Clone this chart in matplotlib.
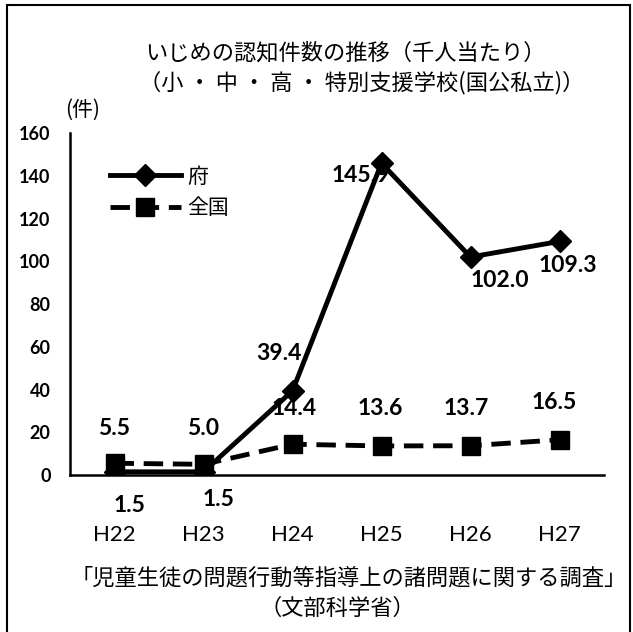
import matplotlib.pyplot as plt
from matplotlib.patches import Rectangle

plt.rcParams['font.family'] = ['Noto Sans CJK JP', 'DejaVu Sans']
num_font = ['Lato', 'Noto Sans CJK JP']

# 年度と千人当たりの認知件数
years = ['H22', 'H23', 'H24', 'H25', 'H26', 'H27']
fu = [1.5, 1.5, 39.4, 145.9, 102.0, 109.3]
zenkoku = [5.5, 5.0, 14.4, 13.6, 13.7, 16.5]

# ラベルの位置ずらし（ポイント）
fu_off = [(11, -24), (11, -20), (-10, 27), (-15, -9), (21, -17), (6, -17)]
zk_off = [(0, 25), (0, 26), (1, 26), (-1, 27), (-3, 27), (-4, 27)]

fig = plt.figure(figsize=(6.33, 6.32), dpi=100)
ax = fig.add_axes([0.1106, 0.2484, 0.8436, 0.5411])

x = range(len(years))
ax.plot(x, fu, color='black', lw=3.5, marker='D', ms=11, label='府', zorder=3)
ax.plot(x, zenkoku, color='black', lw=3.5, ls=(0, (4, 2)), marker='s', ms=13,
        label='全国', zorder=4)

for i, v in enumerate(fu):
    ax.annotate(f'{v:.1f}', (i, v), xytext=fu_off[i], textcoords='offset points',
                ha='center', va='center', fontsize=16.5, fontweight='bold',
                family=num_font, zorder=2)
for i, v in enumerate(zenkoku):
    ax.annotate(f'{v:.1f}', (i, v), xytext=zk_off[i], textcoords='offset points',
                ha='center', va='center', fontsize=16.5, fontweight='bold',
                family=num_font, zorder=2)

ax.set_xlim(-0.5, 5.5)
ax.set_ylim(0, 160)
ax.set_yticks(range(0, 161, 20))
ax.set_xticks(list(x))
ax.set_xticklabels(years)
for lab in ax.get_yticklabels():
    lab.set_family(num_font)
    lab.set_fontweight('bold')
    lab.set_fontsize(13)
for lab in ax.get_xticklabels():
    lab.set_family(num_font)
    lab.set_fontsize(16)
ax.tick_params(axis='y', length=0, pad=14)
ax.tick_params(axis='x', length=0, pad=36)
for s in ['top', 'right']:
    ax.spines[s].set_visible(False)
for s in ['left', 'bottom']:
    ax.spines[s].set_linewidth(1.8)

ax.legend(loc='upper left', bbox_to_anchor=(0.075, 0.905), frameon=False,
          fontsize=15, handlelength=3.4, labelspacing=0.45, borderpad=0,
          borderaxespad=0, handletextpad=0.3)

fig.text(0.545, 0.916, 'いじめの認知件数の推移（千人当たり）', ha='center', va='center',
         fontsize=16)
fig.text(0.572, 0.869, '（小 ・ 中 ・ 高 ・ 特別支援学校(国公私立)）', ha='center',
         va='center', fontsize=16)
fig.text(0.13, 0.826, '(件)', ha='center', va='center', fontsize=15)

fig.text(0.55, 0.085, '「児童生徒の問題行動等指導上の諸問題に関する調査」',
         ha='center', va='center', fontsize=16)
fig.text(0.533, 0.038, '（文部科学省）', ha='center', va='center', fontsize=16)

# 外枠
fig.patches.append(Rectangle((0.011, -0.05), 0.985, 1.042, transform=fig.transFigure,
                             fill=False, ec='black', lw=1.5))

fig.savefig('out.png', dpi=100, facecolor='white')
